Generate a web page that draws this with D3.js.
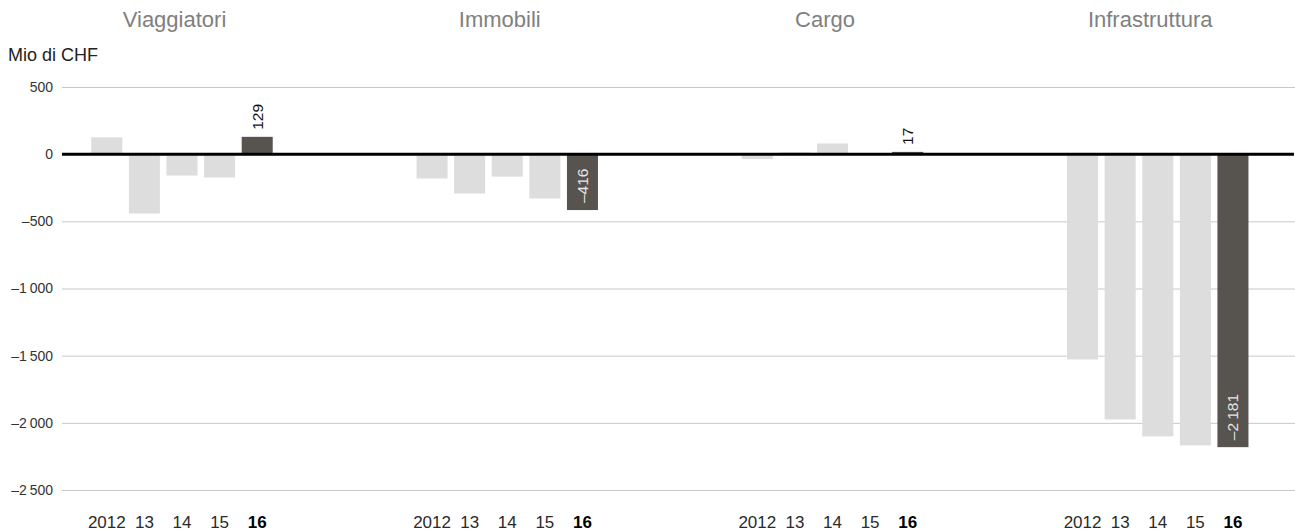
<!DOCTYPE html>
<html><head><meta charset="utf-8">
<script src="https://cdn.jsdelivr.net/npm/d3@7"></script>
<style>
html,body{margin:0;padding:0;background:#fff;}
svg{display:block;font-family:"Liberation Sans",Arial,sans-serif;}
</style></head>
<body>
<svg id="chart" width="1295" height="531"></svg>
<script>
const segments = ["Viaggiatori", "Immobili", "Cargo", "Infrastruttura"];
const years = ["2012", "13", "14", "15", "16"];
const viaggiatori = [125, -442, -159, -174, 129];
const immobili = [-181, -293, -167, -330, -416];
const cargo = [-37, 14, 80, -6, 17];
const infrastruttura = [-1528, -1975, -2101, -2168, -2181];
const yTicks = [500, 0, -500, -1000, -1500, -2000, -2500];
const unitLabel = "Mio di CHF";

const seriesBySegment = [viaggiatori, immobili, cargo, infrastruttura];

const loc = d3.formatLocale({decimal: ",", thousands: "\u2009", grouping: [3], currency: ["", ""], minus: "\u2013"});
const fmt = loc.format(",d");

const svg = d3.select("#chart");
const W = 1295;
const y = d3.scaleLinear().domain([-2500, 500]).range([490, 87]);
const gx = d3.scaleBand().domain(segments).range([62, 62 + 4 * 325.25]).padding(0);
const bx = d3.scaleBand().domain(years).range([26, 26 + 188]).paddingInner(0.175).paddingOuter(0.0875);

// grid
const yAxis = d3.axisLeft(y).tickValues(yTicks).tickSize(-(W - 62)).tickPadding(9).tickFormat(fmt);
const ga = svg.append("g").attr("transform", "translate(62,0)").call(yAxis);
ga.select(".domain").remove();
ga.selectAll(".tick line").attr("stroke", d => d === 0 ? "none" : "#c8c8c8").attr("stroke-width", 1);
ga.selectAll(".tick text").attr("fill", "#333").attr("font-size", 14).attr("font-family", "Liberation Sans, Arial, sans-serif");

svg.append("text").attr("x", 8).attr("y", 61).attr("font-size", 18).attr("fill", "#222").text(unitLabel);

// groups
const groups = svg.selectAll("g.seg").data(segments).join("g")
  .attr("class", "seg").attr("transform", d => `translate(${gx(d)},0)`);

groups.append("text").attr("x", 112.5).attr("y", 27).attr("text-anchor", "middle")
  .attr("font-size", 22).attr("fill", "#808080").text(d => d);

groups.each(function(seg, i) {
  const g = d3.select(this);
  const vals = seriesBySegment[i];
  const data = years.map((yr, j) => ({yr, v: vals[j], last: j === years.length - 1}));
  g.selectAll("rect").data(data).join("rect")
    .attr("x", d => bx(d.yr)).attr("width", bx.bandwidth())
    .attr("y", d => y(Math.max(0, d.v))).attr("height", d => Math.abs(y(d.v) - y(0)))
    .attr("fill", d => d.last ? "#57534e" : "#dddddd");
  // value label on latest year
  const last = data[data.length - 1];
  const lx = bx(last.yr) + bx.bandwidth() / 2 + 5.5;
  const ly = y(last.v) - 7;
  g.append("text").attr("transform", `translate(${lx},${ly}) rotate(-90)`)
    .attr("text-anchor", "start").attr("font-size", 15.5)
    .attr("fill", last.v >= 0 ? "#111" : "#e6e6e6").text(fmt(last.v));
  // year labels
  g.selectAll("text.yr").data(data).join("text").attr("class", "yr")
    .attr("x", d => bx(d.yr) + bx.bandwidth() / 2).attr("y", 527.5)
    .attr("text-anchor", "middle").attr("font-size", 17)
    .attr("font-weight", d => d.last ? "bold" : "normal")
    .attr("fill", d => d.last ? "#000" : "#2a2a2a").text(d => d.yr);
});

// zero line
svg.append("line").attr("x1", 62).attr("x2", 1294).attr("y1", y(0)).attr("y2", y(0))
  .attr("stroke", "#000").attr("stroke-width", 3);
</script>
</body></html>
